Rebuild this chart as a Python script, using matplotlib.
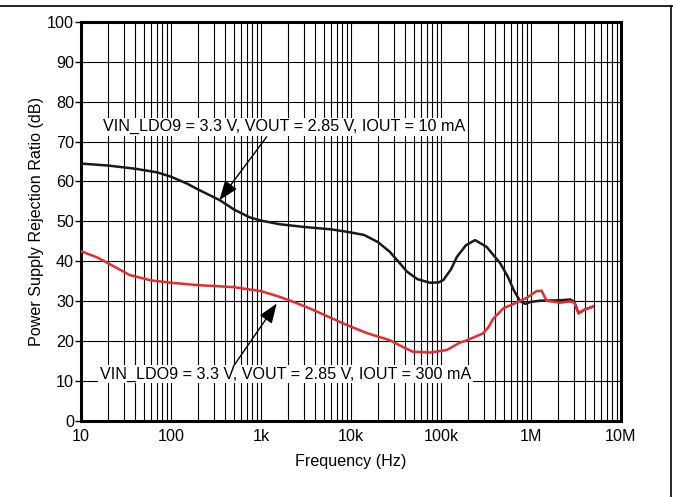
import matplotlib
matplotlib.use("Agg")
import matplotlib.pyplot as plt
from matplotlib.lines import Line2D
from matplotlib.ticker import FixedLocator, FixedFormatter, NullFormatter

plt.rcParams['font.family'] = ['Liberation Sans', 'DejaVu Sans']

# PSRR at IOUT = 10 mA
freq_10ma = [10, 20, 40, 70, 100, 150, 200, 350, 500, 750, 1000, 1600, 3000,
             6000, 9000, 14000, 20000, 27000, 35000, 42000, 55000, 76000,
             95000, 107000, 130000, 151000, 190000, 240000, 323000, 457000,
             560000, 645000, 760000, 870000, 1000000, 1270000, 2100000,
             2760000, 3050000, 3400000, 4000000, 4900000]
psrr_10ma = [64.5, 64.0, 63.2, 62.3, 61.2, 59.5, 58.0, 55.3, 53.0, 51.0, 50.2,
             49.3, 48.6, 48.0, 47.4, 46.6, 44.8, 42.4, 39.5, 37.4, 35.5, 34.6,
             34.7, 35.3, 38.0, 41.1, 44.0, 45.3, 43.6, 39.5, 36.0, 32.8, 30.0,
             29.3, 29.8, 30.1, 30.2, 30.4, 29.8, 27.0, 27.9, 28.6]

# PSRR at IOUT = 300 mA
freq_300ma = [10, 15, 20, 35, 60, 100, 200, 500, 1000, 1600, 2500, 3800, 6000,
              9000, 15000, 27000, 40000, 49000, 76000, 116000, 160000, 196000,
              295000, 340000, 380000, 496000, 645000, 900000, 1160000, 1320000,
              1500000, 2100000, 2760000, 3050000, 3400000, 4000000, 4900000]
psrr_300ma = [42.5, 41.0, 39.5, 36.5, 35.2, 34.6, 34.0, 33.5, 32.5, 31.1, 29.5,
              27.8, 25.8, 24.0, 22.0, 20.2, 18.2, 17.3, 17.1, 17.7, 19.5, 20.2,
              21.9, 23.5, 25.5, 28.2, 29.3, 30.8, 32.5, 32.6, 30.1, 29.6, 29.9,
              29.6, 26.9, 27.9, 28.6]

x_ticks = [10, 100, 1e3, 1e4, 1e5, 1e6, 1e7]
x_tick_labels = ["10", "100", "1k", "10k", "100k", "1M", "10M"]
y_ticks = list(range(0, 101, 10))

label_10ma = "VIN_LDO9 = 3.3 V, VOUT = 2.85 V, IOUT = 10 mA"
label_300ma = "VIN_LDO9 = 3.3 V, VOUT = 2.85 V, IOUT = 300 mA"

fs = 11.6

fig = plt.figure(figsize=(6.73, 4.97), dpi=100)
ax = fig.add_axes([0.1204, 0.1535, 0.8019, 0.8022])

ax.set_xscale("log")
ax.set_xlim(10, 1e7)
ax.set_ylim(0, 100)

ax.xaxis.set_major_locator(FixedLocator(x_ticks))
ax.xaxis.set_major_formatter(FixedFormatter(x_tick_labels))
minor = [m * 10 ** e for e in range(1, 7) for m in range(2, 10)]
ax.xaxis.set_minor_locator(FixedLocator(minor))
ax.xaxis.set_minor_formatter(NullFormatter())
ax.set_yticks(y_ticks)

ax.grid(True, which="both", axis="x", color="black", linewidth=0.8)
ax.grid(True, which="major", axis="y", color="black", linewidth=0.8)
ax.set_axisbelow(True)

ax.tick_params(axis="x", which="both", length=0, labelsize=fs, pad=6)
ax.tick_params(axis="y", which="major", length=4, width=1, direction="out",
               labelsize=fs, pad=1)
for s in ax.spines.values():
    s.set_linewidth(2.2)

ax.plot(freq_10ma, psrr_10ma, color="#1a1a1a", linewidth=1.8, zorder=3)
ax.plot(freq_300ma, psrr_300ma, color="#ec2a2d", linewidth=1.8, zorder=4)

ax.set_xlabel("Frequency (Hz)", fontsize=fs, labelpad=7)
ax.set_ylabel("Power Supply Rejection Ratio (dB)", fontsize=fs, labelpad=2)

box = dict(facecolor="white", edgecolor="none", pad=1)
ax.text(1800, 73.7, label_10ma, fontsize=fs, ha="center", va="center",
        bbox=box, zorder=5)
ax.text(1875, 11.7, label_300ma, fontsize=fs, ha="center", va="center",
        bbox=box, zorder=5)

arrow = dict(arrowstyle="-|>,head_length=1.2,head_width=0.45",
             color="black", linewidth=1.0, shrinkA=0, shrinkB=0)
ax.annotate("", xy=(345, 55.3), xytext=(1158, 71.2), arrowprops=arrow,
            zorder=6)
ax.annotate("", xy=(1500, 29.4), xytext=(493, 13.6), arrowprops=arrow,
            zorder=6)

# frame lines along the top and right edges of the figure
fig.add_artist(Line2D([0, 1], [1 - 6 / 497, 1 - 6 / 497],
                      transform=fig.transFigure, color="black", linewidth=1.2))
fig.add_artist(Line2D([671 / 673, 671 / 673], [0, 1 - 6 / 497],
                      transform=fig.transFigure, color="black", linewidth=1.2))

fig.savefig("out.png", dpi=100, facecolor="white")
